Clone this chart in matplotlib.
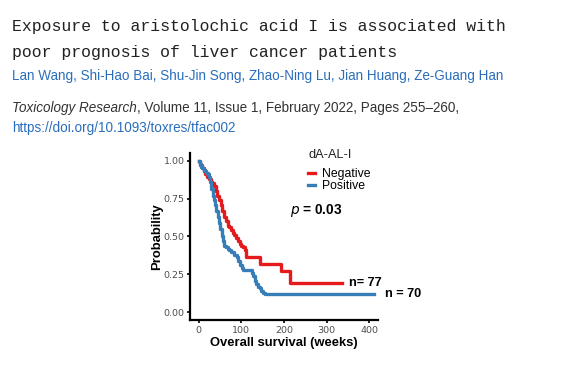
import matplotlib
matplotlib.use('Agg')
import matplotlib.pyplot as plt

# Kaplan-Meier curves (weeks, survival probability)
neg_t = [0, 4, 8, 12, 16, 20, 24, 28, 32, 36, 40, 44, 48, 52, 56, 60, 64, 68, 72, 76,
         80, 84, 88, 92, 96, 100, 104, 108, 112, 143, 193, 213, 336]
neg_s = [1.0, 0.97, 0.95, 0.93, 0.91, 0.89, 0.88, 0.86, 0.85, 0.83, 0.80, 0.77, 0.74, 0.71,
         0.67, 0.63, 0.60, 0.57, 0.56, 0.54, 0.52, 0.51, 0.49, 0.47, 0.45, 0.44, 0.43, 0.41,
         0.364, 0.316, 0.27, 0.197, 0.197]
pos_t = [0, 3, 6, 9, 12, 15, 18, 21, 24, 27, 30, 33, 36, 39, 42, 45, 48, 51, 54, 57, 60,
         64, 68, 72, 77, 83, 89, 93, 97, 101, 104, 124, 128, 131, 135, 139, 143, 147, 151,
         155, 410]
pos_s = [1.0, 0.98, 0.96, 0.95, 0.94, 0.93, 0.92, 0.91, 0.89, 0.86, 0.81, 0.77, 0.74, 0.71,
         0.67, 0.63, 0.59, 0.55, 0.50, 0.47, 0.44, 0.43, 0.42, 0.41, 0.40, 0.38, 0.364, 0.34,
         0.31, 0.29, 0.28, 0.26, 0.24, 0.21, 0.19, 0.17, 0.16, 0.14, 0.13, 0.118, 0.118]
n_neg, n_pos = 77, 70
p_value = 0.03
xticks = [0, 100, 200, 300, 400]
yticks = [0.0, 0.25, 0.5, 0.75, 1.0]

title_lines = ['Exposure to aristolochic acid I is associated with',
               'poor prognosis of liver cancer patients']
authors = 'Lan Wang, Shi-Hao Bai, Shu-Jin Song, Zhao-Ning Lu, Jian Huang, Ze-Guang Han'
journal = 'Toxicology Research'
citation = ', Volume 11, Issue 1, February 2022, Pages 255\u2013260,'
doi = 'https://doi.org/10.1093/toxres/tfac002'

W, H = 573, 365
fig = plt.figure(figsize=(W / 100, H / 100), dpi=100)
link = '#2a6ebb'
red = '#e41a1c'
blue = '#377eb8'

def fx(px):
    return px / W

def fy(py):
    return 1 - py / H

# header text
fig.text(fx(12), fy(31), title_lines[0], family='Liberation Mono', fontsize=11.9, color='#222222')
fig.text(fx(12), fy(57), title_lines[1], family='Liberation Mono', fontsize=11.9, color='#222222')
fig.text(fx(12), fy(80), authors, family='Liberation Sans', fontsize=9.75, color=link)
t1 = fig.text(fx(12), fy(112), journal, family='Liberation Sans', fontsize=9.75,
              style='italic', color='#333333')
fig.canvas.draw()
bb = t1.get_window_extent()
fig.text(bb.x1 / W, fy(112), citation, family='Liberation Sans', fontsize=9.75, color='#333333')
fig.text(fx(12), fy(132), doi, family='Liberation Sans', fontsize=9.75, color=link)

# survival plot
ax = fig.add_axes([fx(190), fy(320), (378 - 190) / W, (320 - 153) / H])
ax.step(neg_t, neg_s, where='post', color=red, lw=2.4, label='Negative')
ax.step(pos_t, pos_s, where='post', color=blue, lw=2.4, label='Positive')
ax.set_xlim(-20, 420)
ax.set_ylim(-0.05, 1.05)
ax.set_xticks(xticks)
ax.set_yticks(yticks)
ax.set_yticklabels(['%.2f' % v for v in yticks])
ax.tick_params(labelsize=6.8, labelcolor='#4d4d4d', length=2.5, width=1.2, pad=1.5)
for side in ['top', 'right']:
    ax.spines[side].set_visible(False)
for side in ['left', 'bottom']:
    ax.spines[side].set_linewidth(1.6)
ax.set_xlabel('Overall survival (weeks)', fontsize=9.4, fontweight='bold', labelpad=1.5,
              family='Liberation Sans')
ax.set_ylabel('Probability', fontsize=9.4, fontweight='bold', labelpad=0, family='Liberation Sans')

ax.text(0.53, 0.653, r'$\mathbf{\it{p}}$ = %.2f' % p_value, transform=ax.transAxes,
        fontsize=9.8, fontweight='bold', family='Liberation Sans', va='center')
ax.text(neg_t[-1] + 15, neg_s[-1], 'n= %d' % n_neg, fontsize=9.2, fontweight='bold',
        family='Liberation Sans', va='center')
ax.text(pos_t[-1] + 26, pos_s[-1], 'n = %d' % n_pos, fontsize=9.2, fontweight='bold',
        family='Liberation Sans', va='center', clip_on=False)

ax.text(0.628, 0.988, 'dA-AL-I', transform=ax.transAxes, fontsize=9.2,
        family='Liberation Sans', color='#222222', va='center')
leg = ax.legend(loc='upper left', bbox_to_anchor=(0.63, 0.91), frameon=False,
                handlelength=0.5, handletextpad=0.6, labelspacing=-0.02, borderaxespad=0,
                borderpad=0, prop={'family': 'Liberation Sans', 'size': 8.8})

fig.savefig('out.png', dpi=100)
